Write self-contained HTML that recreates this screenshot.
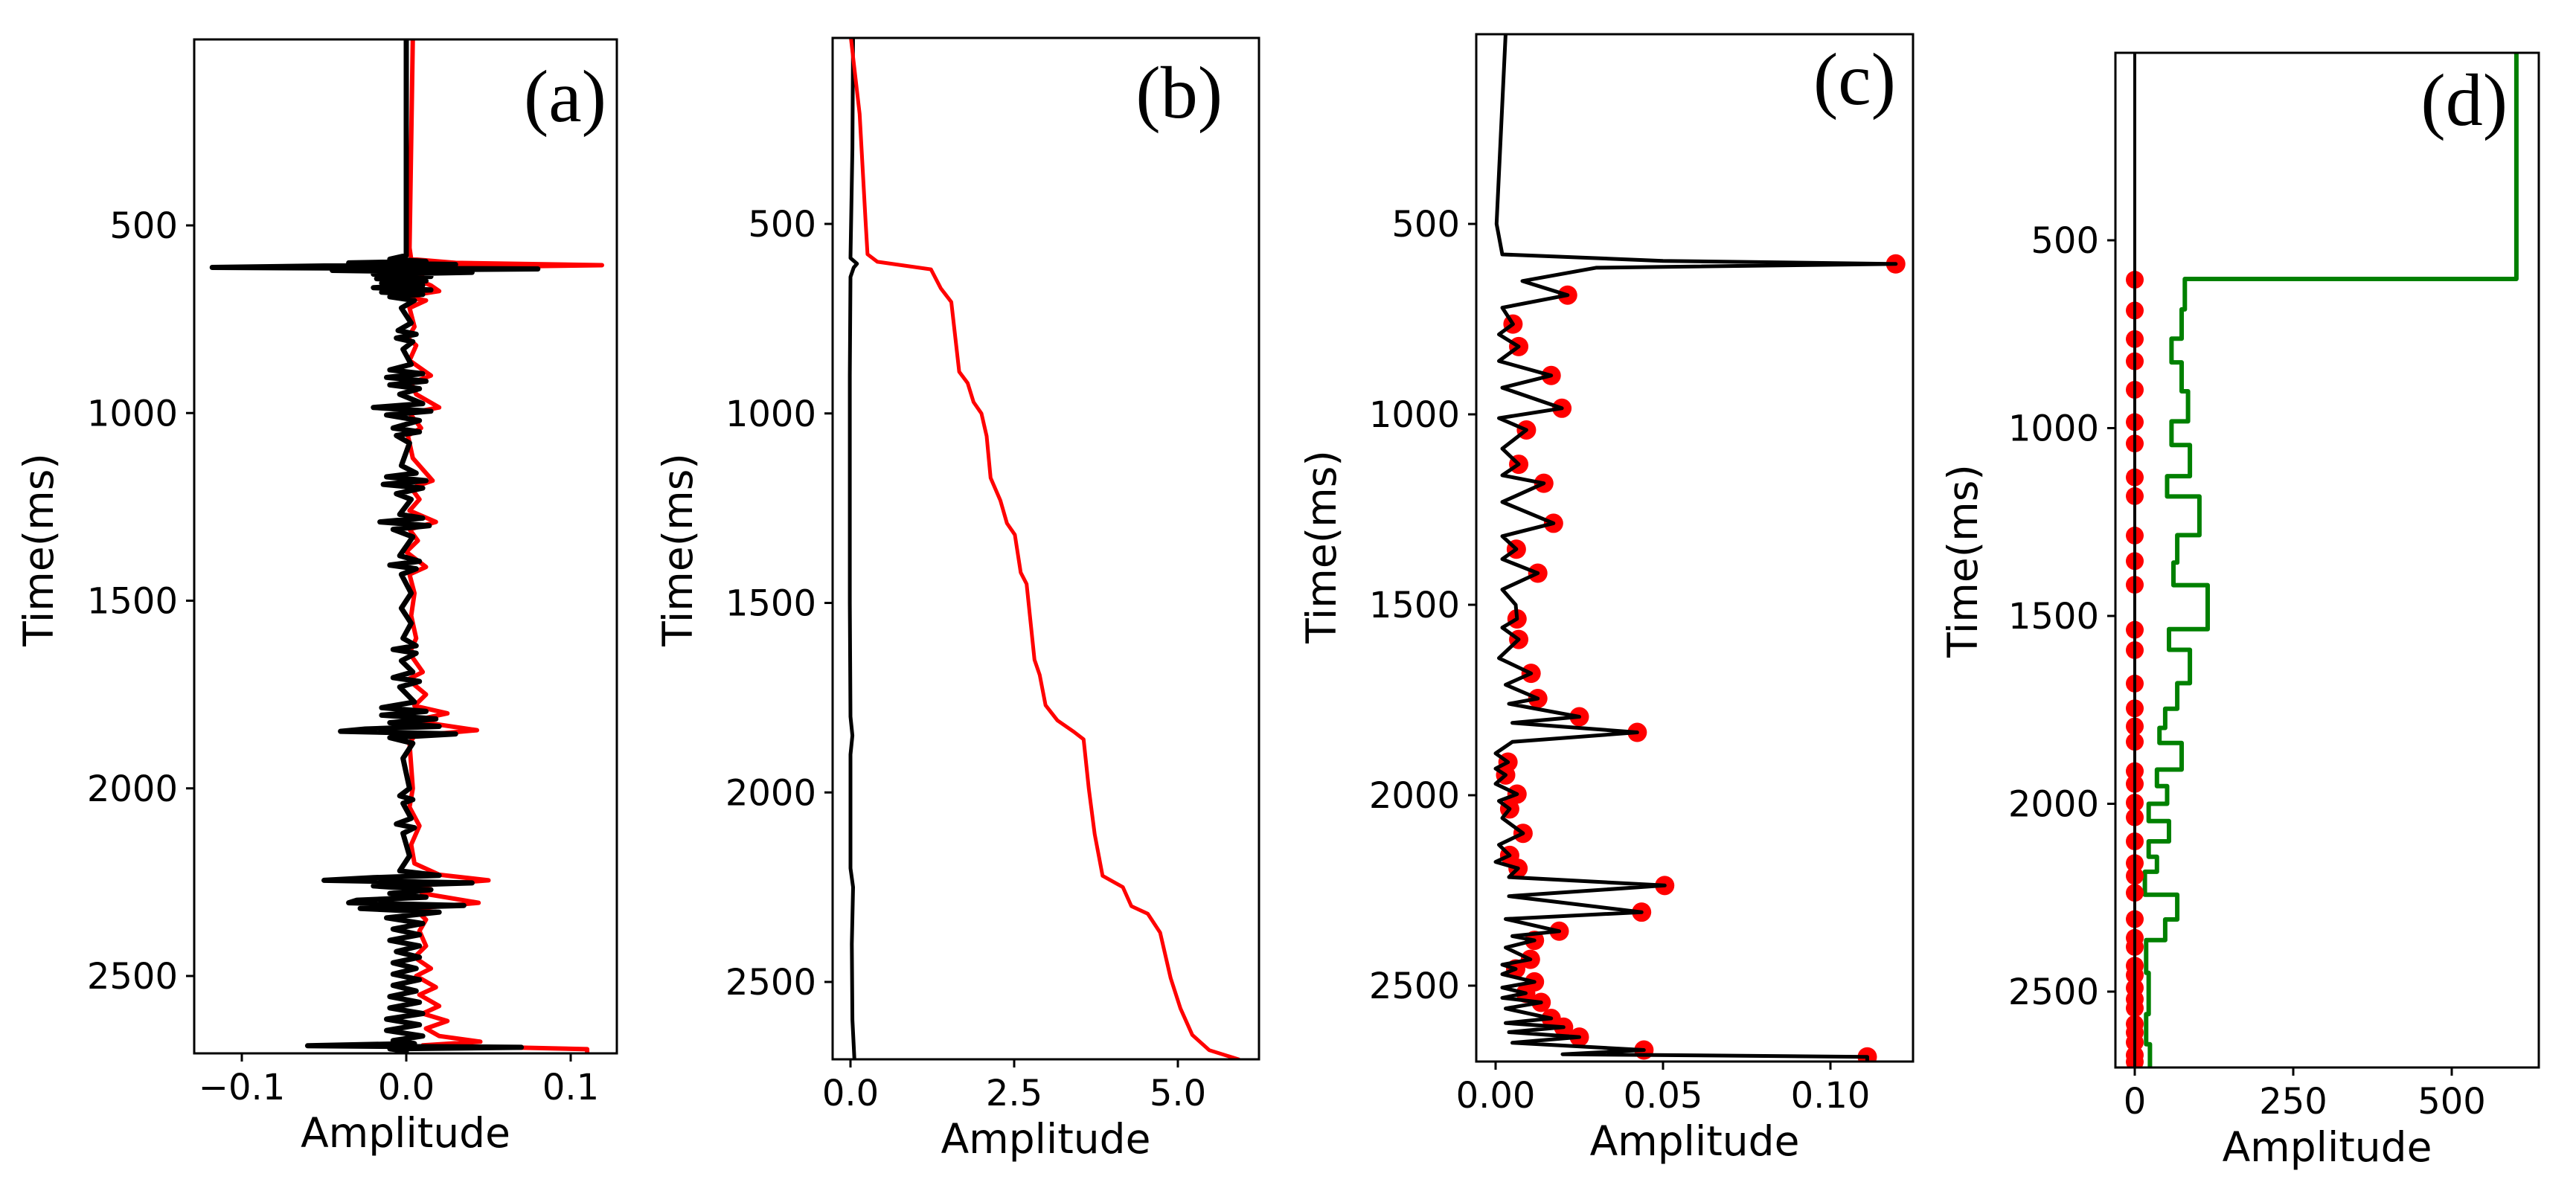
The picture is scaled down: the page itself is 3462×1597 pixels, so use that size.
<!DOCTYPE html>
<html><head><meta charset="utf-8">
<style>
html,body{margin:0;padding:0;background:#fff;}
svg{display:block;}
text{font-family:"DejaVu Sans","Liberation Sans",sans-serif;fill:#000;}
</style></head>
<body>
<svg id="fig" xmlns="http://www.w3.org/2000/svg" width="3462" height="1597" viewBox="0 0 3462 1597"></svg>
<script>
// ---------- Panel (a): seismic traces ----------
const aBlackTime = [0,580,590,596,600,604,608,612,616,620,625,630,636,642,648,654,660,666,672,678,684,690,700,720,760,780,790,800,810,830,870,885,895,905,915,925,935,950,975,985,995,1005,1020,1040,1050,1060,1080,1140,1160,1170,1180,1190,1200,1215,1230,1270,1280,1290,1300,1310,1330,1380,1395,1405,1415,1430,1480,1520,1560,1600,1620,1630,1640,1660,1690,1705,1715,1730,1770,1785,1795,1805,1815,1825,1835,1842,1848,1855,1865,1880,1920,2000,2020,2030,2040,2080,2095,2105,2120,2180,2220,2232,2238,2245,2252,2260,2270,2280,2290,2298,2305,2312,2320,2330,2345,2360,2375,2390,2405,2420,2435,2450,2465,2480,2495,2510,2525,2540,2555,2570,2585,2600,2615,2630,2645,2660,2672,2680,2686,2690,2694,2700,2705];
const aBlackAmp = [0,0,-0.01,0.012,-0.035,0.03,-0.05,-0.118,0.08,-0.045,0.04,-0.02,0.015,-0.018,0.012,-0.015,0.01,-0.02,0.015,-0.015,0.01,-0.01,0.005,-0.003,0.003,-0.005,0.006,-0.006,0.004,-0.002,0.003,-0.01,0.01,-0.012,0.012,-0.01,0.008,-0.004,0.01,-0.02,0.015,-0.012,0.008,-0.008,0.008,-0.006,0.002,-0.003,0.006,-0.012,0.012,-0.014,0.01,-0.006,0.003,-0.004,0.01,-0.016,0.014,-0.008,0.004,-0.004,0.008,-0.01,0.006,-0.003,0.003,-0.003,0.003,-0.002,0.006,-0.008,0.006,-0.003,0.004,-0.008,0.008,-0.004,0.005,-0.015,0.012,-0.015,0.018,-0.01,0.02,-0.025,-0.04,0.03,-0.01,0.004,-0.002,0.002,-0.004,0.004,-0.002,0.003,-0.006,0.005,-0.002,0.002,-0.004,0.02,-0.02,-0.05,0.04,-0.02,0.015,-0.01,0.012,-0.03,-0.035,0.035,-0.028,0.02,-0.012,0.01,-0.008,0.008,-0.01,0.008,-0.006,0.008,-0.008,0.006,-0.008,0.008,-0.008,0.006,-0.01,0.008,-0.01,0.01,-0.012,0.008,-0.012,0.01,-0.008,0.005,-0.06,0.07,-0.01,0,0];
const aRedTime = [0,560,590,600,606,612,620,630,645,660,675,690,700,720,770,800,820,860,900,920,950,985,1000,1040,1060,1120,1180,1200,1230,1260,1290,1310,1340,1370,1410,1430,1480,1540,1600,1640,1690,1710,1750,1780,1800,1820,1845,1860,1880,2000,2050,2100,2150,2200,2230,2245,2260,2280,2305,2320,2350,2380,2420,2450,2480,2500,2530,2550,2580,2600,2620,2640,2660,2675,2685,2695,2705];
const aRedAmp = [0.004,0.002,0.003,0.03,0.119,0.02,0.005,0.01,0.007,0.015,0.02,-0.002,0.012,0.002,0.005,0.001,0.006,0.002,0.015,0.003,0.006,0.02,0.002,0.009,0.001,0.004,0.016,0.003,0.008,0.002,0.018,0.002,0.007,0,0.012,0.002,0.005,0.003,0.006,0.002,0.01,0.001,0.012,0.005,0.025,0.004,0.043,0.005,0.002,0.004,0.002,0.008,0.003,0.005,0.02,0.05,0.005,0.01,0.044,0.005,0.012,0.008,0.012,0.005,0.015,0.006,0.018,0.008,0.02,0.01,0.025,0.012,0.02,0.045,0.01,0.11,0.11];
const aXTicks = [-0.1,0.0,0.1];
const aXTickLabels = ["\u22120.1","0.0","0.1"];

// ---------- Panel (b) ----------
const bRedTime = [0,210,490,580,600,620,670,706,890,920,970,1000,1060,1170,1230,1290,1320,1420,1450,1650,1690,1770,1810,1840,1860,1990,2110,2220,2250,2300,2320,2370,2490,2570,2640,2680,2705];
const bRedAmp = [0,0.14,0.23,0.26,0.41,1.23,1.38,1.54,1.66,1.79,1.88,2.0,2.08,2.14,2.29,2.39,2.51,2.6,2.69,2.81,2.89,2.98,3.16,3.41,3.56,3.64,3.73,3.85,4.16,4.29,4.54,4.73,4.89,5.04,5.22,5.48,5.94];
const bBlackTime = [0,300,590,605,615,640,900,1200,1500,1800,1850,1900,2200,2250,2400,2600,2705];
const bBlackAmp = [0.04,0.03,0.0,0.1,0.05,0.0,-0.01,-0.01,-0.01,0.0,0.03,0.0,0.0,0.04,0.02,0.03,0.06];
const bXTicks = [0,2.5,5.0];
const bXTickLabels = ["0.0","2.5","5.0"];

// ---------- Panel (c) ----------
const cLineTime = [0,500,580,597,605,615,650,687,720,763,790,822,860,898,930,984,1010,1041,1090,1131,1160,1181,1230,1286,1320,1354,1380,1417,1460,1500,1537,1560,1591,1640,1680,1710,1746,1760,1794,1810,1835,1860,1890,1913,1930,1947,1970,1997,2015,2036,2060,2100,2130,2158,2175,2192,2215,2237,2265,2307,2325,2357,2370,2381,2400,2431,2445,2456,2470,2490,2505,2520,2532,2544,2560,2586,2598,2609,2622,2635,2650,2669,2680,2687,2705];
const cLineAmp = [0.003,0.0003,0.002,0.05,0.1195,0.03,0.008,0.0215,0.002,0.0052,0.001,0.0069,0.001,0.0166,0.002,0.0198,0.001,0.0092,0.002,0.0069,0.002,0.0144,0.002,0.0173,0.002,0.0062,0.002,0.0126,0.002,0.006,0.0064,0.002,0.0069,0.001,0.0106,0.003,0.0126,0.004,0.025,0.005,0.0423,0.005,0,0.0037,0,0.003,0,0.0064,0.001,0.0042,0.002,0.0082,0.001,0.0042,0,0.0067,0.004,0.0505,0.004,0.0436,0.003,0.019,0.005,0.0116,0.003,0.0104,0.002,0.006,0.002,0.0116,0.002,0.009,0.002,0.0136,0.003,0.0166,0.003,0.0203,0.004,0.025,0.005,0.0443,0.02,0.111,0.111];
const cPeakTime = [605,687,763,822,898,984,1041,1131,1181,1286,1354,1417,1537,1591,1680,1746,1794,1835,1913,1947,1997,2036,2100,2158,2192,2237,2307,2357,2381,2431,2456,2490,2520,2544,2586,2609,2635,2669,2687];
const cPeakAmp = [0.1195,0.0215,0.0052,0.0069,0.0166,0.0198,0.0092,0.0069,0.0144,0.0173,0.0062,0.0126,0.0064,0.0069,0.0106,0.0126,0.025,0.0423,0.0037,0.003,0.0064,0.0042,0.0082,0.0042,0.0067,0.0505,0.0436,0.019,0.0116,0.0104,0.006,0.0116,0.009,0.0136,0.0166,0.0203,0.025,0.0443,0.111];
const cXTicks = [0,0.05,0.10];
const cXTickLabels = ["0.00","0.05","0.10"];

// ---------- Panel (d) ----------
const dStepStart = [0,603,684,762,825,902,982,1045,1128,1182,1285,1358,1418,1535,1590,1679,1747,1798,1838,1909,1953,2000,2046,2100,2141,2181,2242,2308,2363,2450,2560,2640];
const dStepValue = [602,79,74,58,74,84,58,87,51,102,67,61,115,54,87,67,48,39,74,35,51,22,54,22,35,16,67,48,18,22,18,24];
const dEndTime = 2706;
const dSpikeTime = [605,687,763,822,898,984,1041,1131,1181,1286,1354,1417,1537,1591,1680,1746,1794,1835,1913,1947,1997,2036,2100,2158,2192,2237,2307,2357,2381,2431,2456,2490,2520,2544,2586,2609,2635,2669,2687];
const dXTicks = [0,250,500];
const dXTickLabels = ["0","250","500"];
const yTicks = [500,1000,1500,2000,2500];
const yTickLabels = ["500","1000","1500","2000","2500"];

const NS = "http://www.w3.org/2000/svg";
const fig = document.getElementById('fig');
function el(tag, attrs, parent){const e=document.createElementNS(NS,tag);for(const k in attrs)e.setAttribute(k,attrs[k]);(parent||fig).appendChild(e);return e;}

function makePanel(p){
  const g = el('g',{});
  
  
  const X = a => p.x0 + a*(p.xk - p.x0)/p.kval;
  const Y = t => p.y500 + (t-500)*(p.y2500 - p.y500)/2000;
  const cp = el('clipPath',{id:'clip'+p.id},g);
  el('rect',{x:p.left,y:p.top,width:p.right-p.left,height:p.bottom-p.top},cp);
  const plot = el('g',{'clip-path':'url(#clip'+p.id+')'},g);
  
  
  yTicks.forEach((t,i)=>{
    const ty = Y(t);
    const tk = el('line',{x1:p.left-11,x2:p.left,y1:ty,y2:ty,stroke:'#000','stroke-width':3},g);
    
    
    const lb = el('text',{x:p.left-22,y:ty+17,'font-size':48,'text-anchor':'end'},g);
    lb.textContent = yTickLabels[i];
    
    
  });
  p.xticks.forEach((a,i)=>{
    const tx = X(a);
    const tk = el('line',{x1:tx,x2:tx,y1:p.bottom,y2:p.bottom+11,stroke:'#000','stroke-width':3},g);
    
    
    const lb = el('text',{x:tx,y:p.bottom+62,'font-size':48,'text-anchor':'middle'},g);
    lb.textContent = p.xlabels[i];
    
    
  });
  const xl = el('text',{x:(p.left+p.right)/2,y:p.bottom+126,'font-size':55,'text-anchor':'middle'},g);
  xl.textContent='Amplitude';
  
  
  const yl = el('text',{x:0,y:0,'font-size':55,'text-anchor':'middle',transform:'translate('+(p.ylx)+','+p.yly+') rotate(-90)'},g);
  yl.textContent='Time(ms)';
  
  
  const pl = el('text',{x:p.plx,y:p.ply,'font-size':100,'text-anchor':'end',style:'font-family:"Liberation Serif",serif'},g);
  pl.textContent='('+p.id+')';
  
  
  return {g,plot,X,Y,p};
}
function poly(P, times, amps, color, w, name){
  const pts = times.map((t,i)=>P.X(amps[i]).toFixed(1)+','+P.Y(t).toFixed(1)).join(' ');
  const l = el('polyline',{points:pts,fill:'none',stroke:color,'stroke-width':w,'stroke-linejoin':'round'},P.plot);
  
  
}
function frame(P){
  const p=P.p;
  const r = el('rect',{x:p.left,y:p.top,width:p.right-p.left,height:p.bottom-p.top,fill:'none',stroke:'#000','stroke-width':3},P.g);
  
  
}

const A = makePanel({id:'a',left:261,right:829,top:53,bottom:1416,x0:546,xk:767,kval:0.1,y500:303,y2500:1312,xticks:aXTicks,xlabels:aXTickLabels,ylx:71,yly:739,plx:815,ply:163});
poly(A,aRedTime,aRedAmp,'#ff0000',6,'red-trace');
poly(A,aBlackTime,aBlackAmp,'#000',7,'black-trace');
frame(A);

const B = makePanel({id:'b',left:1119,right:1692,top:51,bottom:1424,x0:1143,xk:1363,kval:2.5,y500:301,y2500:1320,xticks:bXTicks,xlabels:bXTickLabels,ylx:930,yly:739,plx:1643,ply:158});
poly(B,bBlackTime,bBlackAmp,'#000',5,'black-curve');
poly(B,bRedTime,bRedAmp,'#ff0000',5,'red-curve');
frame(B);

const C = makePanel({id:'c',left:1984,right:2571,top:46,bottom:1427,x0:2010,xk:2235,kval:0.05,y500:301,y2500:1325,xticks:cXTicks,xlabels:cXTickLabels,ylx:1795,yly:735,plx:2548,ply:140});
cPeakTime.forEach((t,i)=>{
  const c = el('circle',{cx:C.X(cPeakAmp[i]),cy:C.Y(t),r:13,fill:'#ff0000'},C.plot);
  
  
});
poly(C,cLineTime,cLineAmp,'#000',5,'envelope-line');
frame(C);

const D = makePanel({id:'d',left:2843,right:3412,top:71,bottom:1435,x0:2869,xk:3082,kval:250,y500:323,y2500:1333,xticks:dXTicks,xlabels:dXTickLabels,ylx:2657,yly:754,plx:3370,ply:168});
{
  const st=[],sv=[];
  dStepStart.forEach((t,i)=>{
    const tEnd = i+1<dStepStart.length ? dStepStart[i+1] : dEndTime;
    st.push(t,tEnd); sv.push(dStepValue[i],dStepValue[i]);
  });
  poly(D,st,sv,'#008000',6,'green-step-line');
}
dSpikeTime.forEach(t=>{
  const c = el('circle',{cx:D.X(0),cy:D.Y(t),r:12,fill:'#ff0000'},D.plot);
  
  
});
poly(D,[0,dEndTime],[0,0],'#000',4,'zero-line');
frame(D);
</script>
</body></html>
